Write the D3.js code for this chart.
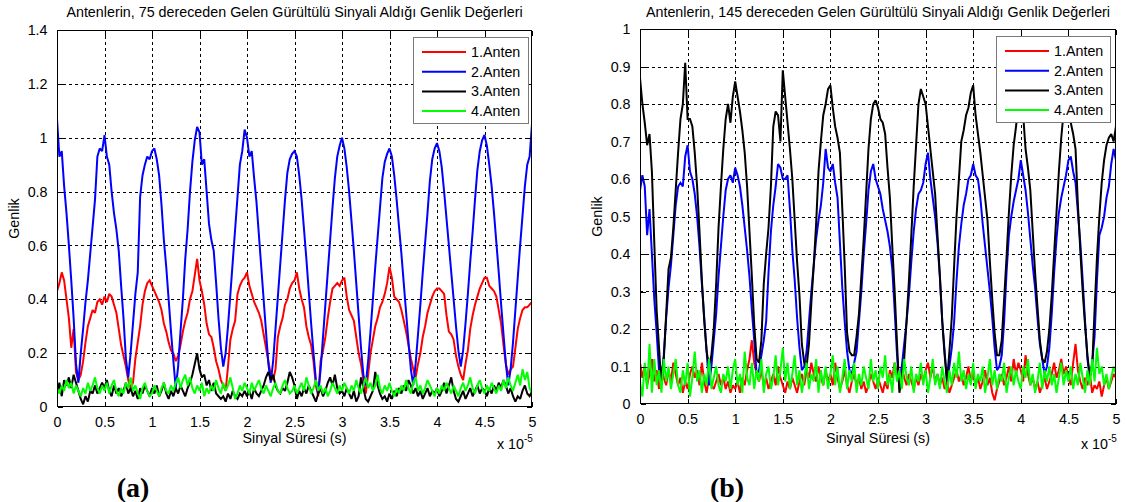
<!DOCTYPE html>
<html><head><meta charset="utf-8">
<script src="https://cdn.jsdelivr.net/npm/d3@7"></script>
<style>body{margin:0;background:#fff;}svg{display:block;}</style>
</head><body>
<svg id="chart" width="1126" height="502"></svg>
<script>
// time axis: samples every 0.025 (units of 1e-5 s), 0 .. 5
const timeStep = 0.025;
const seriesNames = ["1.Anten", "2.Anten", "3.Anten", "4.Anten"];
const seriesColors = ["#ff0000", "#0000ff", "#000000", "#00ff00"];
const xTicks = [0, 0.5, 1, 1.5, 2, 2.5, 3, 3.5, 4, 4.5, 5];
const xTickLabels = ["0", "0.5", "1", "1.5", "2", "2.5", "3", "3.5", "4", "4.5", "5"];
const yTicksA = [0, 0.2, 0.4, 0.6, 0.8, 1, 1.2, 1.4];
const yTickLabelsA = ["0", "0.2", "0.4", "0.6", "0.8", "1", "1.2", "1.4"];
const yTicksB = [0, 0.1, 0.2, 0.3, 0.4, 0.5, 0.6, 0.7, 0.8, 0.9, 1];
const yTickLabelsB = ["0", "0.1", "0.2", "0.3", "0.4", "0.5", "0.6", "0.7", "0.8", "0.9", "1"];
const titleA = "Antenlerin, 75 dereceden Gelen Gürültülü Sinyali Aldığı Genlik Değerleri";
const titleB = "Antenlerin, 145 dereceden Gelen Gürültülü Sinyali Aldığı Genlik Değerleri";
const xLabel = "Sinyal Süresi (s)";
const yLabel = "Genlik";
const panelLetters = ["(a)", "(b)"];

// Panel (a): 75 degrees
const a_anten1 = [
0.43,0.46,0.50,0.47,0.40,0.33,0.22,0.29,0.13,0.10,0.12,0.17,0.24,0.30,0.33,0.36,0.35,0.39,0.40,0.38,
0.41,0.39,0.42,0.41,0.38,0.35,0.29,0.23,0.19,0.15,0.10,0.07,0.09,0.18,0.24,0.30,0.38,0.43,0.46,0.47,
0.45,0.43,0.41,0.39,0.36,0.31,0.28,0.24,0.21,0.20,0.17,0.19,0.23,0.28,0.32,0.35,0.40,0.43,0.49,0.55,
0.47,0.43,0.38,0.31,0.27,0.26,0.22,0.17,0.14,0.10,0.08,0.06,0.15,0.25,0.29,0.32,0.42,0.45,0.47,0.48,
0.50,0.45,0.42,0.39,0.37,0.35,0.32,0.27,0.22,0.17,0.12,0.10,0.14,0.26,0.30,0.33,0.38,0.40,0.44,0.46,
0.47,0.50,0.44,0.40,0.37,0.30,0.26,0.23,0.17,0.08,0.04,0.17,0.21,0.26,0.33,0.39,0.44,0.45,0.46,0.45,
0.47,0.48,0.41,0.36,0.34,0.32,0.26,0.20,0.16,0.10,0.05,0.12,0.20,0.25,0.30,0.33,0.37,0.39,0.42,0.46,
0.52,0.48,0.41,0.40,0.39,0.36,0.32,0.28,0.23,0.18,0.14,0.11,0.16,0.20,0.26,0.30,0.35,0.38,0.41,0.43,
0.44,0.44,0.43,0.42,0.34,0.28,0.27,0.25,0.19,0.15,0.12,0.10,0.16,0.21,0.29,0.34,0.38,0.41,0.44,0.46,
0.48,0.48,0.45,0.44,0.43,0.41,0.36,0.31,0.23,0.16,0.12,0.14,0.15,0.22,0.29,0.33,0.36,0.37,0.37,0.38,
0.39];
const a_anten2 = [
1.07,0.93,0.95,0.82,0.72,0.60,0.47,0.33,0.16,0.09,0.20,0.29,0.39,0.47,0.57,0.67,0.77,0.93,0.96,0.95,
1.01,0.93,0.90,0.80,0.72,0.66,0.58,0.45,0.33,0.18,0.11,0.20,0.31,0.42,0.50,0.78,0.86,0.90,0.93,0.92,
0.95,0.96,0.92,0.86,0.75,0.62,0.52,0.40,0.28,0.17,0.07,0.15,0.28,0.40,0.55,0.66,0.80,0.91,0.99,1.04,
1.02,0.90,0.92,0.80,0.68,0.62,0.58,0.46,0.33,0.22,0.15,0.20,0.30,0.42,0.54,0.66,0.78,0.90,0.95,1.03,
1.00,0.93,0.95,0.85,0.76,0.64,0.52,0.40,0.28,0.16,0.09,0.17,0.29,0.41,0.53,0.65,0.77,0.87,0.92,0.94,
0.95,0.93,0.86,0.77,0.66,0.55,0.43,0.31,0.20,0.10,0.05,0.14,0.26,0.38,0.50,0.62,0.74,0.85,0.93,0.97,
1.00,0.96,0.89,0.80,0.69,0.58,0.46,0.34,0.22,0.12,0.08,0.17,0.28,0.40,0.52,0.63,0.74,0.85,0.91,0.94,
0.96,0.93,0.86,0.77,0.67,0.57,0.46,0.35,0.24,0.14,0.08,0.16,0.27,0.38,0.50,0.61,0.72,0.84,0.92,0.96,
0.98,0.95,0.89,0.80,0.70,0.60,0.50,0.40,0.30,0.21,0.15,0.21,0.31,0.42,0.54,0.65,0.77,0.88,0.95,0.99,
1.01,0.97,0.90,0.82,0.72,0.61,0.50,0.38,0.27,0.16,0.08,0.14,0.24,0.36,0.48,0.60,0.71,0.82,0.90,0.93,
1.05];
const a_anten3 = [
0.05,0.09,0.04,0.10,0.08,0.11,0.07,0.12,0.09,0.06,0.03,0.01,0.04,0.02,0.06,0.05,0.08,0.05,0.07,0.09,
0.07,0.10,0.06,0.04,0.08,0.05,0.07,0.04,0.06,0.09,0.05,0.07,0.04,0.06,0.03,0.07,0.05,0.08,0.06,0.04,
0.07,0.05,0.08,0.04,0.06,0.09,0.05,0.03,0.06,0.04,0.07,0.05,0.08,0.06,0.04,0.07,0.09,0.12,0.16,0.20,
0.14,0.11,0.12,0.08,0.10,0.06,0.09,0.05,0.04,0.03,0.04,0.02,0.05,0.03,0.06,0.04,0.03,0.05,0.04,0.06,
0.04,0.06,0.03,0.07,0.05,0.04,0.06,0.08,0.11,0.13,0.10,0.12,0.08,0.06,0.05,0.07,0.06,0.09,0.13,0.11,
0.08,0.03,0.06,0.04,0.07,0.05,0.08,0.06,0.04,0.02,0.05,0.07,0.04,0.06,0.09,0.11,0.08,0.12,0.07,0.05,
0.06,0.04,0.07,0.05,0.03,0.06,0.02,0.04,0.11,0.07,0.03,0.02,0.04,0.06,0.13,0.08,0.05,0.03,0.04,0.02,
0.05,0.03,0.06,0.04,0.07,0.05,0.08,0.06,0.10,0.08,0.05,0.07,0.04,0.06,0.03,0.05,0.07,0.04,0.06,0.05,
0.07,0.04,0.06,0.09,0.05,0.08,0.11,0.06,0.03,0.02,0.04,0.06,0.03,0.05,0.07,0.04,0.06,0.08,0.05,0.07,
0.06,0.04,0.07,0.05,0.08,0.06,0.09,0.07,0.10,0.08,0.05,0.07,0.04,0.02,0.04,0.03,0.06,0.08,0.05,0.04,
0.06];
const a_anten4 = [
0.07,0.05,0.08,0.06,0.10,0.07,0.09,0.05,0.08,0.06,0.04,0.07,0.05,0.09,0.06,0.08,0.11,0.07,0.05,0.08,
0.06,0.09,0.05,0.08,0.10,0.06,0.04,0.07,0.05,0.09,0.07,0.11,0.06,0.08,0.05,0.03,0.07,0.09,0.06,0.04,
0.05,0.08,0.06,0.04,0.07,0.09,0.06,0.05,0.08,0.06,0.09,0.11,0.07,0.10,0.12,0.08,0.11,0.07,0.05,0.08,
0.06,0.09,0.04,0.07,0.05,0.08,0.06,0.10,0.07,0.05,0.09,0.06,0.08,0.11,0.07,0.03,0.05,0.08,0.06,0.09,
0.07,0.05,0.09,0.06,0.08,0.10,0.07,0.05,0.08,0.06,0.04,0.07,0.09,0.06,0.05,0.08,0.10,0.07,0.05,0.06,
0.08,0.05,0.07,0.09,0.06,0.11,0.08,0.05,0.07,0.10,0.06,0.08,0.05,0.07,0.04,0.06,0.09,0.07,0.05,0.08,
0.06,0.09,0.07,0.05,0.08,0.06,0.10,0.07,0.05,0.08,0.11,0.07,0.09,0.06,0.08,0.12,0.07,0.05,0.08,0.06,
0.09,0.06,0.04,0.07,0.05,0.08,0.06,0.10,0.07,0.05,0.09,0.11,0.06,0.08,0.05,0.07,0.10,0.08,0.06,0.04,
0.07,0.05,0.08,0.06,0.09,0.07,0.05,0.08,0.06,0.04,0.07,0.09,0.06,0.08,0.11,0.07,0.05,0.08,0.10,0.07,
0.05,0.08,0.06,0.09,0.07,0.05,0.08,0.06,0.10,0.07,0.11,0.08,0.06,0.09,0.12,0.08,0.14,0.10,0.13,0.07,
0.05];

// Panel (b): 145 degrees
const b_anten1 = [
0.11,0.07,0.10,0.05,0.08,0.12,0.06,0.09,0.04,0.10,0.07,0.05,0.09,0.06,0.11,0.08,0.05,0.07,0.03,0.06,
0.04,0.08,0.10,0.07,0.09,0.05,0.11,0.06,0.03,0.07,0.05,0.04,0.06,0.08,0.05,0.07,0.04,0.06,0.03,0.05,
0.04,0.06,0.03,0.07,0.05,0.09,0.12,0.17,0.11,0.08,0.06,0.09,0.05,0.07,0.04,0.06,0.08,0.05,0.10,0.07,
0.05,0.03,0.06,0.04,0.07,0.05,0.03,0.06,0.08,0.05,0.09,0.07,0.11,0.08,0.06,0.10,0.07,0.05,0.09,0.06,
0.08,0.05,0.11,0.07,0.04,0.06,0.09,0.05,0.03,0.06,0.08,0.05,0.07,0.04,0.06,0.03,0.05,0.08,0.06,0.04,
0.07,0.05,0.03,0.06,0.04,0.09,0.07,0.11,0.08,0.06,0.10,0.07,0.05,0.08,0.06,0.04,0.07,0.05,0.08,0.06,
0.09,0.11,0.07,0.10,0.06,0.08,0.05,0.07,0.04,0.06,0.03,0.05,0.07,0.09,0.06,0.08,0.05,0.07,0.10,0.06,
0.08,0.05,0.07,0.04,0.06,0.09,0.05,0.07,0.03,0.01,0.04,0.06,0.08,0.05,0.07,0.10,0.06,0.12,0.08,0.11,
0.09,0.06,0.13,0.08,0.05,0.07,0.04,0.06,0.03,0.05,0.07,0.04,0.06,0.08,0.11,0.07,0.09,0.12,0.08,0.10,
0.07,0.05,0.11,0.16,0.09,0.06,0.04,0.07,0.05,0.08,0.03,0.05,0.04,0.06,0.02,0.05,0.07,0.04,0.06,0.08,
0.07];
const b_anten2 = [
0.57,0.61,0.58,0.45,0.52,0.40,0.28,0.19,0.09,0.07,0.13,0.23,0.31,0.37,0.45,0.53,0.58,0.59,0.58,0.66,
0.69,0.62,0.60,0.56,0.50,0.42,0.32,0.23,0.14,0.05,0.10,0.17,0.24,0.34,0.42,0.50,0.57,0.60,0.61,0.59,
0.63,0.61,0.58,0.53,0.47,0.41,0.34,0.25,0.17,0.08,0.09,0.13,0.17,0.22,0.35,0.46,0.53,0.58,0.64,0.63,
0.60,0.60,0.61,0.52,0.41,0.33,0.23,0.15,0.09,0.10,0.14,0.22,0.30,0.37,0.44,0.49,0.53,0.59,0.68,0.63,
0.62,0.64,0.59,0.55,0.43,0.31,0.22,0.14,0.09,0.08,0.11,0.14,0.22,0.30,0.40,0.48,0.57,0.62,0.64,0.60,
0.58,0.56,0.52,0.49,0.46,0.42,0.36,0.25,0.13,0.04,0.10,0.16,0.22,0.29,0.38,0.46,0.52,0.56,0.57,0.59,
0.64,0.67,0.60,0.55,0.50,0.43,0.34,0.22,0.14,0.06,0.10,0.15,0.22,0.33,0.42,0.48,0.53,0.56,0.60,0.61,
0.64,0.61,0.60,0.55,0.48,0.42,0.36,0.30,0.23,0.15,0.09,0.10,0.13,0.22,0.35,0.45,0.50,0.54,0.57,0.60,
0.65,0.61,0.57,0.51,0.44,0.37,0.31,0.23,0.16,0.12,0.08,0.10,0.15,0.24,0.35,0.44,0.51,0.55,0.58,0.61,
0.65,0.66,0.62,0.59,0.51,0.43,0.33,0.22,0.12,0.07,0.11,0.18,0.33,0.45,0.47,0.50,0.55,0.58,0.64,0.68,
0.65];
const b_anten3 = [
0.87,0.80,0.75,0.69,0.72,0.62,0.43,0.25,0.15,0.05,0.12,0.24,0.36,0.39,0.47,0.57,0.67,0.76,0.80,0.91,
0.76,0.76,0.74,0.67,0.58,0.46,0.33,0.22,0.14,0.10,0.13,0.20,0.32,0.47,0.58,0.68,0.76,0.80,0.75,0.82,
0.86,0.82,0.78,0.73,0.67,0.58,0.46,0.34,0.21,0.12,0.11,0.17,0.32,0.40,0.47,0.58,0.74,0.78,0.77,0.70,
0.89,0.82,0.75,0.68,0.60,0.49,0.38,0.29,0.16,0.11,0.10,0.16,0.27,0.37,0.48,0.62,0.70,0.77,0.80,0.84,
0.85,0.79,0.74,0.71,0.67,0.52,0.37,0.19,0.14,0.13,0.13,0.18,0.24,0.34,0.44,0.56,0.68,0.76,0.80,0.81,
0.79,0.76,0.75,0.72,0.63,0.55,0.42,0.30,0.16,0.03,0.07,0.12,0.22,0.33,0.45,0.58,0.69,0.80,0.84,0.82,
0.80,0.74,0.68,0.62,0.56,0.45,0.34,0.22,0.13,0.06,0.14,0.23,0.37,0.50,0.60,0.70,0.73,0.77,0.79,0.83,
0.85,0.77,0.72,0.67,0.61,0.55,0.49,0.38,0.28,0.19,0.13,0.13,0.17,0.28,0.39,0.51,0.61,0.69,0.74,0.80,
0.84,0.77,0.68,0.63,0.57,0.46,0.35,0.26,0.17,0.12,0.11,0.14,0.20,0.29,0.40,0.51,0.62,0.71,0.78,0.82,
0.79,0.75,0.72,0.68,0.53,0.41,0.30,0.21,0.13,0.07,0.10,0.25,0.39,0.50,0.59,0.65,0.69,0.71,0.72,0.70,
0.74];
const b_anten4 = [
0.06,0.02,0.11,0.04,0.16,0.03,0.12,0.05,0.09,0.03,0.12,0.06,0.10,0.04,0.08,0.12,0.05,0.03,0.09,0.05,
0.11,0.02,0.07,0.14,0.06,0.09,0.03,0.08,0.05,0.12,0.04,0.07,0.10,0.05,0.03,0.08,0.06,0.10,0.04,0.09,
0.12,0.05,0.08,0.03,0.14,0.07,0.05,0.11,0.04,0.09,0.06,0.12,0.03,0.08,0.10,0.04,0.07,0.13,0.05,0.09,
0.15,0.06,0.11,0.04,0.08,0.13,0.05,0.09,0.03,0.07,0.11,0.04,0.08,0.06,0.12,0.03,0.09,0.05,0.10,0.04,
0.08,0.13,0.05,0.10,0.03,0.07,0.12,0.04,0.09,0.06,0.11,0.03,0.08,0.05,0.10,0.07,0.04,0.12,0.06,0.09,
0.04,0.10,0.07,0.13,0.05,0.08,0.03,0.11,0.06,0.09,0.04,0.12,0.07,0.05,0.10,0.03,0.08,0.06,0.11,0.05,
0.09,0.03,0.07,0.12,0.05,0.08,0.04,0.10,0.06,0.03,0.09,0.05,0.11,0.07,0.14,0.06,0.09,0.04,0.08,0.05,
0.11,0.04,0.08,0.06,0.10,0.03,0.07,0.12,0.05,0.09,0.04,0.08,0.06,0.11,0.03,0.07,0.10,0.05,0.09,0.06,
0.04,0.10,0.07,0.12,0.05,0.08,0.03,0.06,0.11,0.04,0.09,0.06,0.10,0.05,0.08,0.03,0.07,0.11,0.05,0.09,
0.06,0.10,0.04,0.08,0.05,0.11,0.07,0.03,0.09,0.05,0.12,0.06,0.15,0.08,0.10,0.05,0.08,0.04,0.07,0.10,
0.08];

const svg = d3.select("#chart");
const FONT = "Arial, 'Liberation Sans', Helvetica, sans-serif";
const FS = "14.3px";

function drawPanel(cfg) {
  const g = svg.append("g");
  const x = d3.scaleLinear().domain([0, 5]).range([cfg.left, cfg.right]);
  const y = d3.scaleLinear().domain([0, cfg.yMax]).range([cfg.bottom, cfg.top]);
  const clipId = "clip" + cfg.id;
  svg.append("defs").append("clipPath").attr("id", clipId)
    .append("rect").attr("x", cfg.left).attr("y", cfg.top)
    .attr("width", cfg.right - cfg.left).attr("height", cfg.bottom - cfg.top);

  // grid
  const grid = g.append("g").attr("stroke", "#000").attr("stroke-width", 1)
    .attr("stroke-dasharray", "3,3").attr("shape-rendering", "crispEdges");
  grid.selectAll(".gx").data(xTicks.slice(1, -1)).join("line")
    .attr("x1", d => Math.round(x(d)) + 0.5).attr("x2", d => Math.round(x(d)) + 0.5)
    .attr("y1", cfg.top).attr("y2", cfg.bottom);
  grid.selectAll(".gy").data(cfg.yTicks.slice(1, -1)).join("line")
    .attr("y1", d => Math.round(y(d)) + 0.5).attr("y2", d => Math.round(y(d)) + 0.5)
    .attr("x1", cfg.left).attr("x2", cfg.right);

  // series
  const line = d3.line().x((d, i) => x(i * timeStep)).y(d => y(d));
  const lines = g.append("g").attr("clip-path", `url(#${clipId})`);
  cfg.series.forEach((s, k) => {
    lines.append("path").datum(s).attr("d", line).attr("fill", "none")
      .attr("stroke", seriesColors[k]).attr("stroke-width", 2)
      .attr("stroke-linejoin", "miter").attr("stroke-miterlimit", 2);
  });

  // axes box
  g.append("rect").attr("x", cfg.left + 0.5).attr("y", cfg.top + 0.5)
    .attr("width", cfg.right - cfg.left - 1).attr("height", cfg.bottom - cfg.top - 1)
    .attr("fill", "none").attr("stroke", "#000").attr("stroke-width", 1)
    .attr("shape-rendering", "crispEdges");

  // axes via d3 axis generators (ticks inward)
  const axB = d3.axisBottom(x).tickValues(xTicks).tickFormat((d, i) => xTickLabels[i])
    .tickSizeInner(-5).tickSizeOuter(0).tickPadding(10);
  const gb = g.append("g").attr("transform", `translate(0,${cfg.bottom - 0.5})`).call(axB);
  const axT = d3.axisTop(x).tickValues(xTicks).tickFormat("").tickSizeInner(-5).tickSizeOuter(0);
  const gt = g.append("g").attr("transform", `translate(0,${cfg.top + 0.5})`).call(axT);
  const axL = d3.axisLeft(y).tickValues(cfg.yTicks).tickFormat((d, i) => cfg.yLabels[i])
    .tickSizeInner(-5).tickSizeOuter(0).tickPadding(10);
  const gl = g.append("g").attr("transform", `translate(${cfg.left + 0.5},0)`).call(axL);
  const axR = d3.axisRight(y).tickValues(cfg.yTicks).tickFormat("").tickSizeInner(-5).tickSizeOuter(0);
  const gr = g.append("g").attr("transform", `translate(${cfg.right - 0.5},0)`).call(axR);
  [gb, gt, gl, gr].forEach(a => {
    a.select(".domain").remove();
    a.selectAll("line").attr("stroke", "#000").attr("shape-rendering", "crispEdges");
    a.selectAll("text").attr("fill", "#000").style("font-family", FONT).style("font-size", FS);
  });

  // legend
  const lg = g.append("g");
  lg.append("rect").attr("x", cfg.legend.x + 0.5).attr("y", cfg.legend.y + 0.5)
    .attr("width", cfg.legend.w).attr("height", cfg.legend.h)
    .attr("fill", "#fff").attr("stroke", "#7a7a7a").attr("stroke-width", 1)
    .attr("shape-rendering", "crispEdges");
  seriesNames.forEach((name, k) => {
    const yy = cfg.legend.y + 15 + k * 19.7;
    lg.append("line").attr("x1", cfg.legend.x + 9).attr("x2", cfg.legend.x + 53)
      .attr("y1", yy).attr("y2", yy).attr("stroke", seriesColors[k]).attr("stroke-width", 2);
    lg.append("text").attr("x", cfg.legend.x + 58).attr("y", yy + 5)
      .style("font-family", FONT).style("font-size", "14.3px").attr("fill", "#000").text(name);
  });

  // title and labels
  const cx = (cfg.left + cfg.right) / 2;
  g.append("text").attr("x", cx).attr("y", 17).attr("text-anchor", "middle")
    .style("font-family", FONT).style("font-size", FS).attr("fill", "#000").text(cfg.title);
  g.append("text").attr("x", cx).attr("y", 443).attr("text-anchor", "middle")
    .style("font-family", FONT).style("font-size", FS).attr("fill", "#000").text(xLabel);
  g.append("text").attr("transform", `translate(${cfg.left - 38},${(cfg.top + cfg.bottom) / 2}) rotate(-90)`)
    .attr("text-anchor", "middle")
    .style("font-family", FONT).style("font-size", FS).attr("fill", "#000").text(yLabel);
  const ex = g.append("text").attr("x", cfg.right - 35).attr("y", 449)
    .style("font-family", FONT).style("font-size", FS).attr("fill", "#000");
  ex.append("tspan").text("x 10");
  ex.append("tspan").attr("dy", -7).style("font-size", "10px").text("-5");

  g.append("text").attr("x", cfg.letterX).attr("y", 497).attr("text-anchor", "middle")
    .style("font-family", "'Liberation Serif', 'Times New Roman', serif")
    .style("font-size", "28px").style("font-weight", "bold").attr("fill", "#000").text(cfg.letter);
}

drawPanel({
  id: "A", left: 57, right: 532, top: 30, bottom: 407, yMax: 1.4,
  yTicks: yTicksA, yLabels: yTickLabelsA, title: titleA,
  series: [a_anten1, a_anten2, a_anten3, a_anten4],
  legend: { x: 413, y: 37, w: 115, h: 86 }, letter: panelLetters[0], letterX: 133
});
drawPanel({
  id: "B", left: 640, right: 1116, top: 29, bottom: 404, yMax: 1,
  yTicks: yTicksB, yLabels: yTickLabelsB, title: titleB,
  series: [b_anten1, b_anten2, b_anten3, b_anten4],
  legend: { x: 996, y: 36, w: 114, h: 86 }, letter: panelLetters[1], letterX: 727
});
</script>
</body></html>
